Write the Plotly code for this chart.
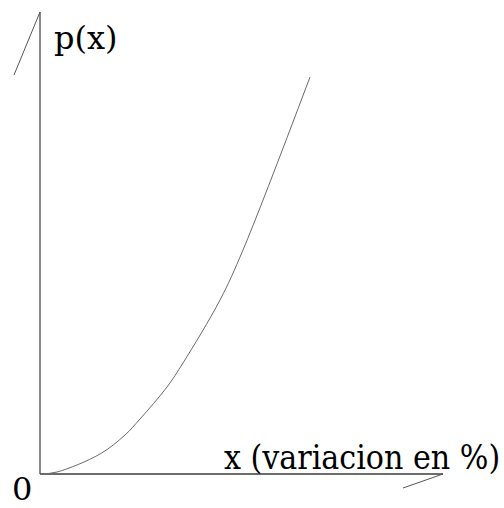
import plotly.graph_objects as go

# Curve p(x): sampled points (x in %, p in arbitrary units)
curve_x = [0.0, 0.425, 1.5, 2.125, 2.5, 3.175, 3.575, 4.5, 5.075, 6.75]
curve_p = [0.0, 0.05, 0.5, 0.975, 1.375, 2.175, 2.775, 4.35, 5.6, 9.925]

# Axis strokes
x_axis_x = [0.0, 10.075]
x_axis_y = [0.0, 0.0]
y_axis_x = [0.0, 0.0]
y_axis_y = [0.0, 11.55]

# Oblique strokes at the axis ends
top_stroke_x = [-0.65, 0.0]
top_stroke_y = [9.975, 11.55]
right_stroke_x = [9.075, 10.075]
right_stroke_y = [-0.35, 0.0]

# Labels
y_label = "p(x)"
x_label = "x (variacion en %)"
origin_label = "0"

fig = go.Figure()

fig.add_trace(go.Scatter(x=x_axis_x, y=x_axis_y, mode="lines",
                         line=dict(color="#3c3c3c", width=1.4)))
fig.add_trace(go.Scatter(x=y_axis_x, y=y_axis_y, mode="lines",
                         line=dict(color="#3c3c3c", width=1.2)))
fig.add_trace(go.Scatter(x=top_stroke_x, y=top_stroke_y, mode="lines",
                         line=dict(color="#555555", width=1)))
fig.add_trace(go.Scatter(x=right_stroke_x, y=right_stroke_y, mode="lines",
                         line=dict(color="#555555", width=1)))
fig.add_trace(go.Scatter(x=curve_x, y=curve_p, mode="lines",
                         line=dict(color="#6a6a6a", width=1, shape="spline", smoothing=1.0)))

font = dict(family="DejaVu Serif", size=32, color="black")
label_font = dict(family="DejaVu Serif Condensed", size=33.5, color="black")

fig.add_annotation(x=0.3, y=10.89, text=y_label, showarrow=False,
                   xanchor="left", yanchor="middle", font=font)
fig.add_annotation(x=4.55, y=0.42, text=x_label, showarrow=False,
                   xanchor="left", yanchor="middle", font=label_font)
fig.add_annotation(x=-0.45, y=-0.37, text=origin_label, showarrow=False,
                   xanchor="center", yanchor="middle", font=font)

fig.update_layout(
    width=504, height=508,
    margin=dict(l=0, r=0, t=0, b=0),
    paper_bgcolor="white", plot_bgcolor="white",
    showlegend=False,
    xaxis=dict(range=[-1.0, 11.6], visible=False, fixedrange=True),
    yaxis=dict(range=[-0.85, 11.85], visible=False, fixedrange=True),
)

fig.write_html("out.html")
